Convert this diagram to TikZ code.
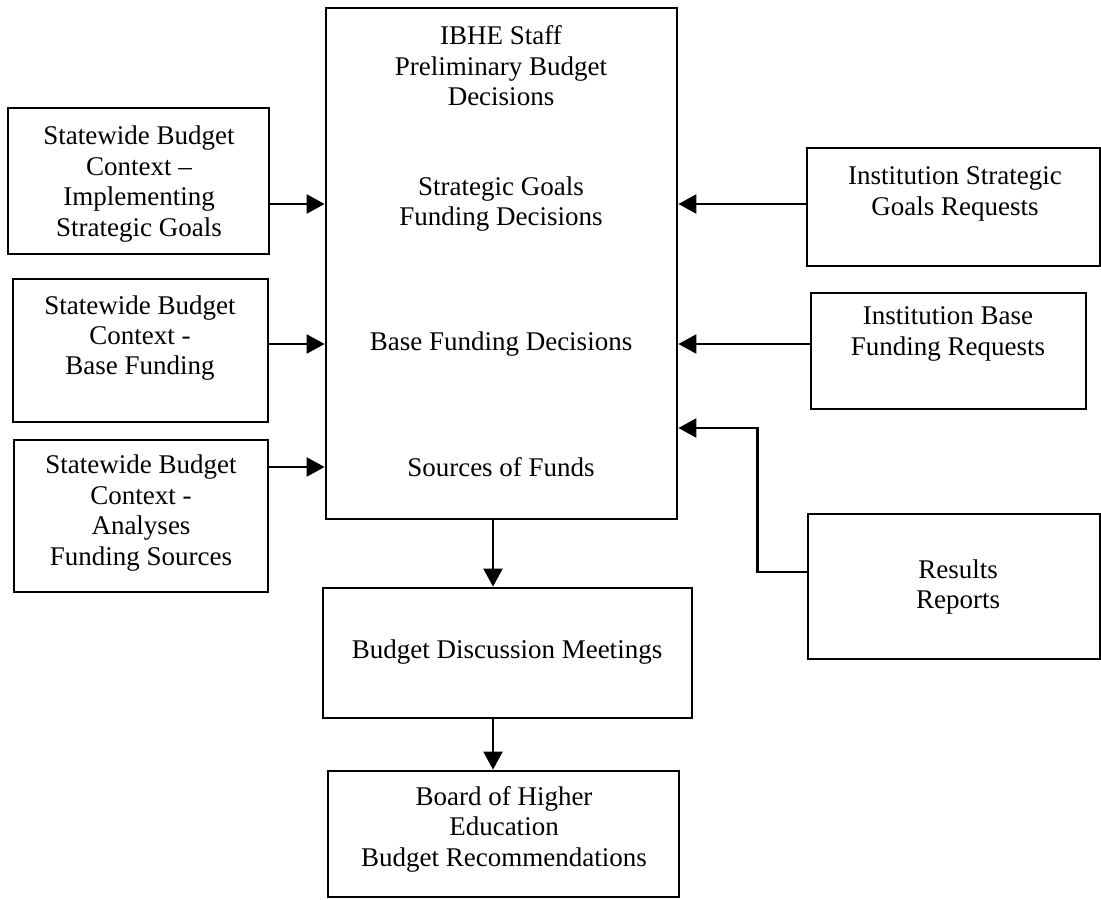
\documentclass[tikz,border=0pt]{standalone}
\usepackage{fontspec}
\setmainfont{Liberation Serif}
\usetikzlibrary{arrows.meta}
\usetikzlibrary{fit}

\begin{document}
\begin{tikzpicture}[x = 0.5pt, y = -0.5pt, font = \fontsize{13.5}{15.2}\selectfont]
	\tikzstyle{boxStyle} = [draw, line width = 1.4pt, inner sep = 0pt]
	\tikzstyle{textStyle} = [align = center, inner sep = 0pt]
	\tikzstyle{flowStyle} = [line width = 1.2pt, -{Triangle[length = 9pt, width = 9.5pt]}]
	\useasboundingbox (0,0) rectangle (1101,899);
	% boxes
	\node[boxStyle, fit = {(326,8) (677,519)}] (main) {};
	\node[boxStyle, fit = {(8,108) (269,254)}] (ctx1) {};
	\node[boxStyle, fit = {(13,279) (268,422)}] (ctx2) {};
	\node[boxStyle, fit = {(14,440) (268,592)}] (ctx3) {};
	\node[boxStyle, fit = {(807,148) (1100,266)}] (inst1) {};
	\node[boxStyle, fit = {(811,293) (1086,409)}] (inst2) {};
	\node[boxStyle, fit = {(808,514) (1100,659)}] (res) {};
	\node[boxStyle, fit = {(323,588) (692,718)}] (meet) {};
	\node[boxStyle, fit = {(328,771) (679,897)}] (board) {};
	% texts
	\node[textStyle] (t0) at (501,66) {IBHE Staff\\Preliminary Budget\\Decisions};
	\node[textStyle] (t1) at (501,204) {Strategic Goals\\Funding Decisions};
	\node[textStyle] (t2) at (501,344) {Base Funding Decisions};
	\node[textStyle] (t3) at (501,467) {Sources of Funds};
	\node[textStyle] (c1) at (139,184) {Statewide Budget\\Context --\\Implementing\\Strategic Goals};
	\node[textStyle] (c2) at (140,338) {Statewide Budget\\Context -\\Base Funding};
	\node[textStyle] (c3) at (141,513) {Statewide Budget\\Context -\\Analyses\\Funding Sources};
	\node[textStyle] (i1) at (955,194) {Institution Strategic\\Goals Requests};
	\node[textStyle] (i2) at (948,334) {Institution Base\\Funding Requests};
	\node[textStyle] (r0) at (958,587) {Results\\Reports};
	\node[textStyle] (m0) at (507,652) {Budget Discussion Meetings};
	\node[textStyle] (b0) at (504,829) {Board of Higher\\Education\\Budget Recommendations};
	% connectors
	\coordinate (down) at (493,0);
	\coordinate (resIn) at (677,428);
	\draw[flowStyle] (ctx1.east |- t1) -- (main.west |- t1);
	\draw[flowStyle] (ctx2.east |- t2) -- (main.west |- t2);
	\draw[flowStyle] (ctx3.east |- t3) -- (main.west |- t3);
	\draw[flowStyle] (inst1.west |- t1) -- (main.east |- t1);
	\draw[flowStyle] (inst2.west |- t2) -- (main.east |- t2);
	\draw[flowStyle] ([yshift = 7.25pt]res.west) -- ++(-49,0) |- (main.east |- resIn);
	\draw[flowStyle] (main.south -| down) -- (meet.north -| down);
	\draw[flowStyle] (meet.south -| down) -- (board.north -| down);
\end{tikzpicture}
\end{document}
